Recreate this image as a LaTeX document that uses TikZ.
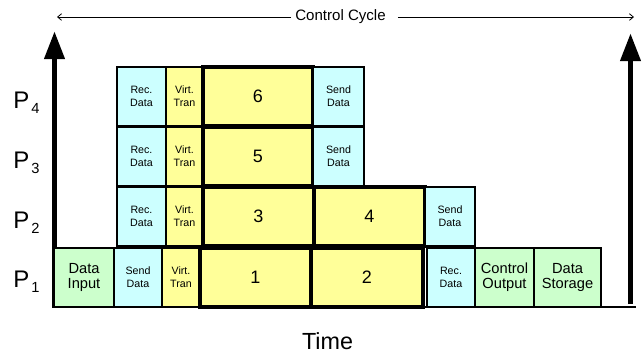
\documentclass[tikz,border=0pt]{standalone}
\usepackage{fontspec}
\setmainfont{Liberation Sans}
\usetikzlibrary{arrows.meta}

\definecolor{cyanfill}{HTML}{CCFFFF}
\definecolor{yellowfill}{HTML}{FFFF99}
\definecolor{greenfill}{HTML}{CCFFCC}

% a block given by its corners (x1,y1)-(x2,y2), in pixel units
\newcommand\blk[7]{%
  \node[#6, minimum width={(#4-#2)*0.75pt}, minimum height={(#5-#3)*0.75pt}]
    (#1) at ({(#2+#4)/2},{(#3+#5)/2}) {#7};}

% processor label with lowered index
\newcommand\proclabel[1]{P\hspace{1.5pt}\raisebox{-3.9pt}{\fontsize{11}{11}\selectfont #1}}

\begin{document}
\begin{tikzpicture}[x=0.75pt,y=-0.75pt,
  blockbase/.style={draw=black, inner sep=0pt, outer sep=0pt, align=center},
  smallbox/.style={blockbase, line width=1.4pt, font=\fontsize{8}{9.5}\selectfont},
  commbox/.style={smallbox, fill=cyanfill},
  virtbox/.style={smallbox, fill=yellowfill},
  taskbox/.style={blockbase, fill=yellowfill, line width=2.3pt, font=\fontsize{13.5}{15}\selectfont},
  iobox/.style={blockbase, fill=greenfill, line width=1.4pt, font=\fontsize{11}{11}\selectfont},
  bigarrow/.style={line width=4.3pt, -{Triangle[length=21pt, width=14.5pt]}},
  cyclearrow/.style={line width=0.6pt, -{Straight Barb[length=3pt, width=5pt]}},
  plabel/.style={anchor=base west, inner sep=0pt, font=\fontsize{18}{18}\selectfont},
]
\useasboundingbox (0,0) rectangle (644,354);

% control cycle span
\node[inner sep=0pt, font=\fontsize{11.3}{12}\selectfont] (cc) at (340.5,17) {Control Cycle};
\coordinate (ccl) at (57,17);
\coordinate (ccr) at (634,17);
\draw[cyclearrow, shorten <=3pt] (cc.west) -- (ccl);
\draw[cyclearrow, shorten <=9pt] (cc.east) -- (ccr);

% vertical time bounds and base line
\coordinate (lb) at (54.5,306);
\coordinate (lt) at (54.5,31);
\coordinate (rb) at (630.5,304);
\coordinate (rt) at (630.5,33);
\draw[bigarrow] (lb) -- (lt);
\draw[bigarrow] (rb) -- (rt);
\coordinate (bl) at (52,307);
\coordinate (br) at (636,307);
\draw[line width=1.2pt] (bl) -- (br);

% processor labels
\node[plabel] (p4) at (13,108) {\proclabel{4}};
\node[plabel] (p3) at (13,168) {\proclabel{3}};
\node[plabel] (p2) at (13,228) {\proclabel{2}};
\node[plabel] (p1) at (13,287) {\proclabel{1}};

% P4
\blk{r4}{117}{67}{166}{126}{commbox}{Rec.\\Data}
\blk{v4}{166}{67}{203}{126}{virtbox}{Virt.\\Tran}
\blk{t6}{203}{67}{313}{126}{taskbox}{6}
\blk{s4}{313}{67}{364}{126}{commbox}{Send\\Data}

% P3
\blk{r3}{117}{127}{166}{186}{commbox}{Rec.\\Data}
\blk{v3}{166}{127}{203}{186}{virtbox}{Virt.\\Tran}
\blk{t5}{203}{127}{313}{186}{taskbox}{5}
\blk{s3}{313}{127}{364}{186}{commbox}{Send\\Data}

% P2
\blk{r2}{117}{187}{166}{246}{commbox}{Rec.\\Data}
\blk{v2}{166}{187}{203}{246}{virtbox}{Virt.\\Tran}
\blk{t3}{203}{187}{314}{246}{taskbox}{3}
\blk{t4}{314}{187}{425}{246}{taskbox}{4}
\blk{s2}{425}{187}{475}{246}{commbox}{Send\\Data}

% P1
\blk{di}{54}{248}{114}{307}{iobox}{Data\\Input}
\blk{s1}{114}{248}{162}{307}{commbox}{Send\\Data}
\blk{v1}{162}{248}{200}{307}{virtbox}{Virt.\\Tran}
\blk{t1}{200}{248}{311}{307}{taskbox}{1}
\blk{t2}{311}{248}{423}{307}{taskbox}{2}
\blk{r1}{427}{248}{475}{307}{commbox}{Rec.\\Data}
\blk{co}{475}{248}{534}{307}{iobox}{Control\\Output}
\blk{ds}{534}{248}{601}{307}{iobox}{Data\\Storage}

% time axis label
\node[inner sep=0pt, font=\fontsize{17.5}{18}\selectfont] (time) at (327.5,341.5) {Time};
\end{tikzpicture}
\end{document}
